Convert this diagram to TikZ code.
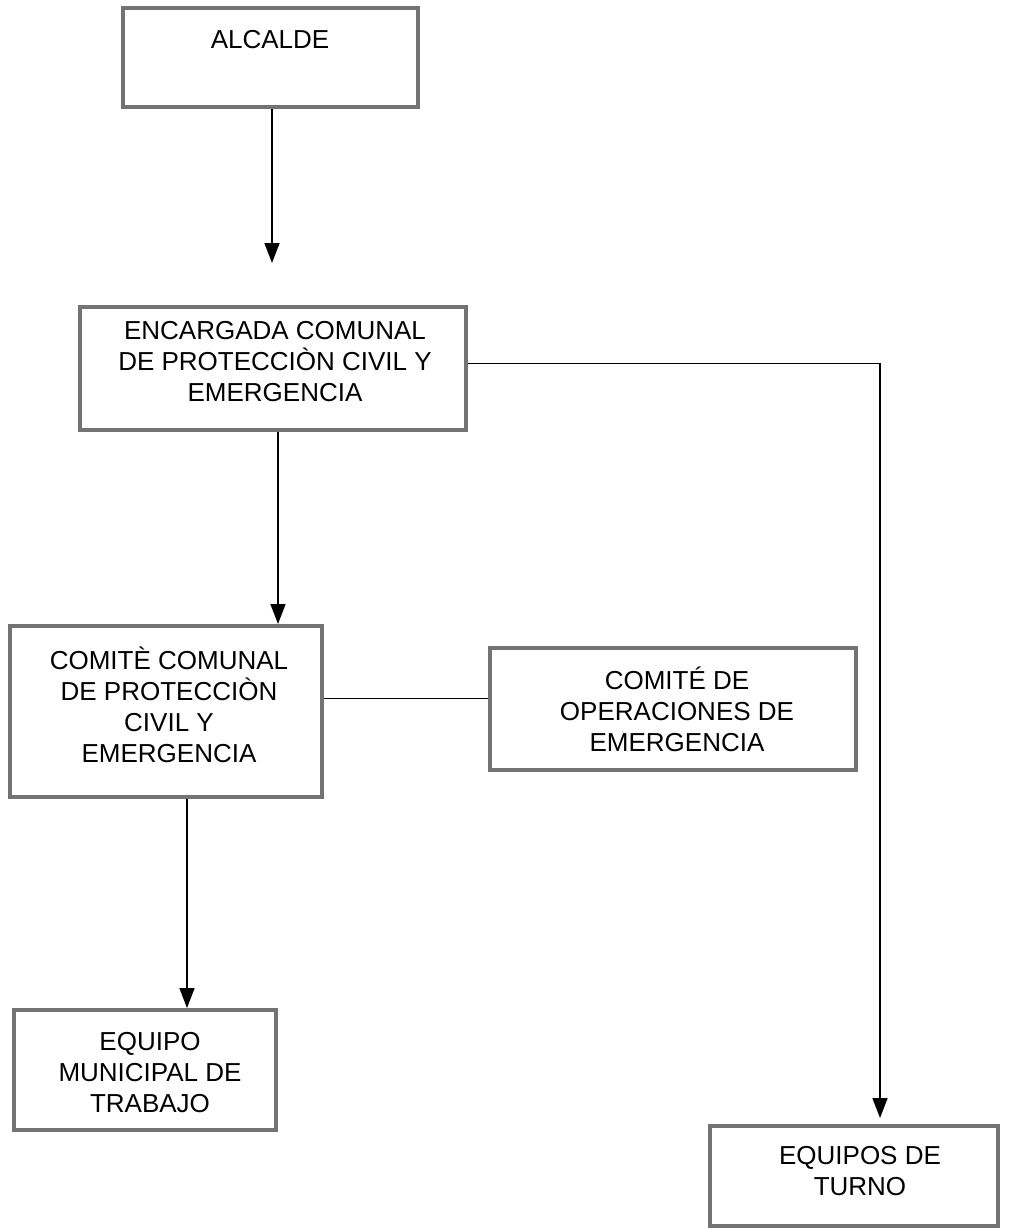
\documentclass[tikz,border=0pt]{standalone}
\usepackage{fontspec}
\setmainfont{Liberation Sans}
\usetikzlibrary{arrows.meta}
\begin{document}
\begin{tikzpicture}[x=1pt,y=-1pt,
  box/.style={draw=black!55, line width=4pt, fill=white, rectangle, inner sep=0pt},
  lbl/.style={align=center, font=\fontsize{26}{31}\selectfont, inner sep=0pt},
  conn/.style={line width=1.6pt, black},
  arr/.style={conn, -{Triangle[length=20pt,width=15pt]}}]
\useasboundingbox (0,0) rectangle (1010,1228);
% boxes
\node[box, minimum width=295pt, minimum height=99pt] (alc) at (270.5,57.5) {};
\node[lbl] (talc) at (270,40) {ALCALDE};
\node[box, minimum width=386pt, minimum height=123pt] (enc) at (273,368.5) {};
\node[lbl] (tenc) at (275,362) {ENCARGADA COMUNAL\\DE PROTECCIÒN CIVIL Y\\EMERGENCIA};
\node[box, minimum width=312pt, minimum height=171pt] (comc) at (166,711.5) {};
\node[lbl] (tcomc) at (169,705) {COMITÈ COMUNAL\\DE PROTECCIÒN\\CIVIL Y\\EMERGENCIA};
\node[box, minimum width=366pt, minimum height=122pt] (coe) at (673,709) {};
\node[lbl] (tcoe) at (677,709) {COMITÉ DE\\OPERACIONES DE\\EMERGENCIA};
\node[box, minimum width=262pt, minimum height=120pt] (eq) at (145,1070) {};
\node[lbl] (teq) at (150,1073) {EQUIPO\\MUNICIPAL DE\\TRABAJO};
\node[box, minimum width=288pt, minimum height=100pt] (tur) at (854,1176) {};
\node[lbl] (ttur) at (860,1171) {EQUIPOS DE\\TURNO};
% connectors
\coordinate (a1) at (272,263);
\draw[arr] ([xshift=1.5pt]alc.south) -- (a1);
\draw[arr] ([xshift=5pt]enc.south) -- ([xshift=112pt]comc.north);
\draw[arr] ([yshift=5pt]enc.east) -| ([xshift=26pt,yshift=6pt]tur.north);
\draw[conn] ([yshift=13pt]comc.east) -- ([yshift=13pt]comc.east -| coe.west);
\draw[arr] ([xshift=21pt]comc.south) -- ([xshift=21pt]comc.south |- eq.north);
\end{tikzpicture}
\end{document}
